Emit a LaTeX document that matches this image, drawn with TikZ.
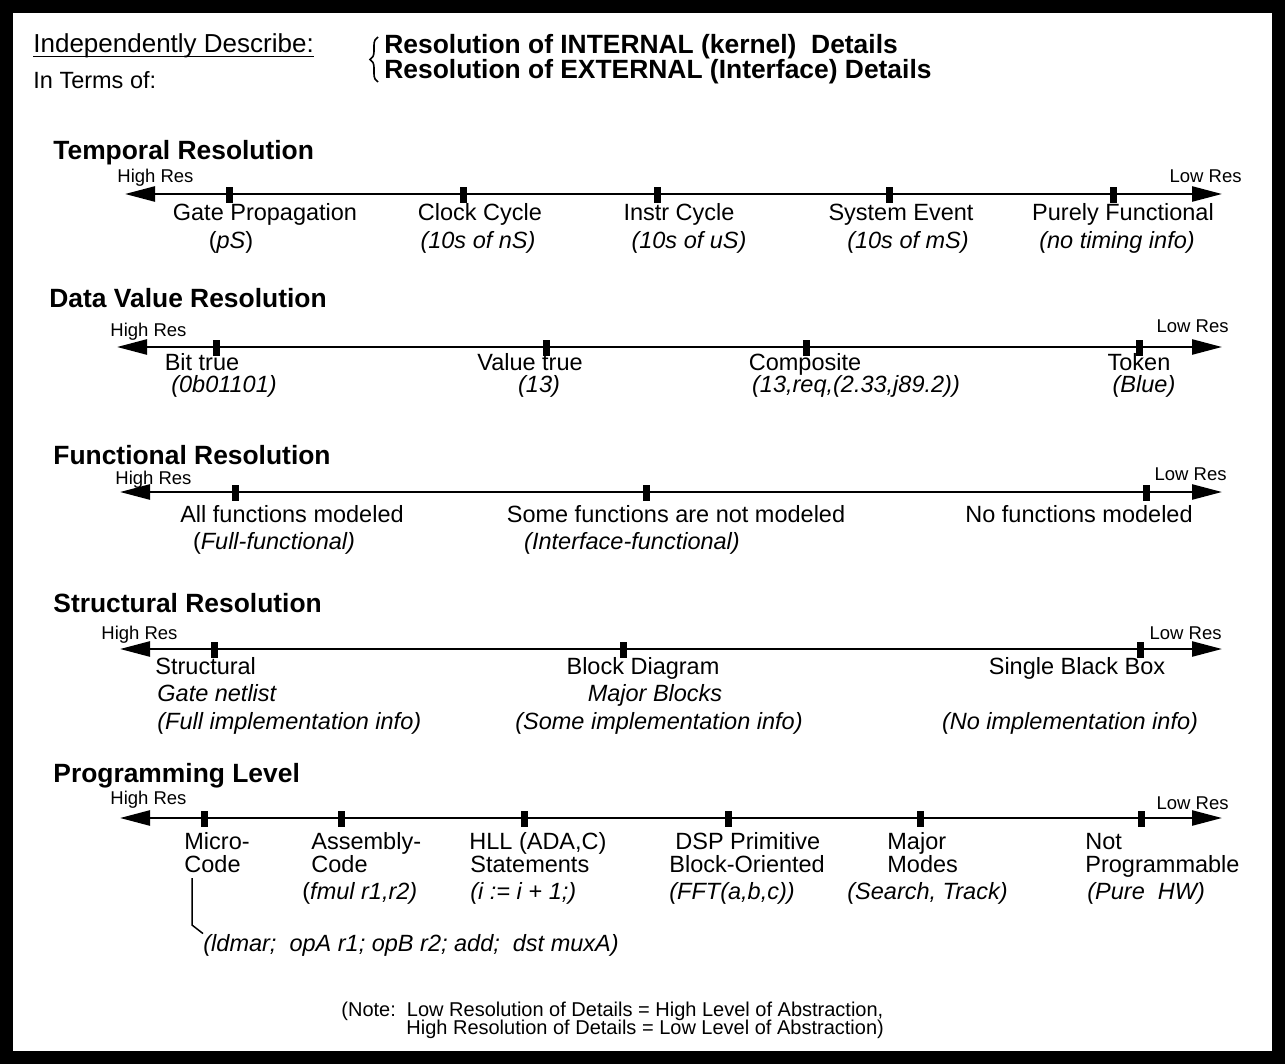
\documentclass[tikz,border=0pt]{standalone}
\usepackage{fontspec}
\setmainfont{Liberation Sans}
\usetikzlibrary{arrows.meta,decorations.pathreplacing}
\begin{document}
\begin{tikzpicture}[x=0.5pt,y=-0.5pt,
  lbl/.style={anchor=base,inner sep=0pt,font=\fontsize{11.75}{13}\selectfont},
  lblw/.style={lbl,anchor=base west},
  ttl/.style={anchor=base west,inner sep=0pt,font=\fontsize{13.2}{15}\selectfont\bfseries},
  hres/.style={anchor=base west,inner sep=0pt,font=\fontsize{9.25}{11}\selectfont},
  lres/.style={anchor=base east,inner sep=0pt,font=\fontsize{9.25}{11}\selectfont},
  note/.style={anchor=base west,inner sep=0pt,font=\fontsize{10}{12}\selectfont},
  axis/.style={line width=1.25pt,{Triangle[length=15pt,width=7.5pt]}-{Triangle[length=15pt,width=7.5pt]}},
  tick/.style={rectangle,fill=black,draw=none,inner sep=0pt,minimum width=3.5pt,minimum height=8pt},
  callout/.style={line width=0.75pt}]
\useasboundingbox (0,0) rectangle (1285,1064);
\draw[line width=6.5pt] (6.5,6.5) rectangle (1278.5,1057.5);

% header
\node[lblw,font=\fontsize{13}{15}\selectfont] (indep) at (33,53) {Independently Describe:};
\draw[line width=0.6pt] ([yshift=-1.6pt]indep.base west) -- ([yshift=-1.6pt]indep.base east);
\coordinate (brB) at (378,82);
\coordinate (brT) at (378,37);
\draw[line width=0.8pt,decorate,decoration={brace,amplitude=4pt}] (brB) -- (brT);
\node[ttl] (int) at (384,54) {Resolution of INTERNAL (kernel)\ \ Details};
\node[ttl] (ext) at (384,79) {Resolution of EXTERNAL (Interface) Details};
\node[lblw] (terms) at (33,89) {In Terms of:};

% Temporal
\node[ttl] (t0) at (53,160) {Temporal Resolution};
\coordinate (tL) at (125,194);
\coordinate (tR) at (1222,194);
\draw[axis] (tL) -- (tR);
\node[hres] (thr) at (117,183) {High Res};
\node[lres] (tlr) at (1242,183) {Low Res};
\foreach \x/\n in {229/1,463/2,657/3,889/4,1113/5}
  \node[tick] (tt\n) at (\x,195) {};
\node[lbl] (ta1) at (265,221) {Gate Propagation};
\node[lbl] (tb1) at (231,249) {(\textit{pS})};
\node[lbl] (ta2) at (480,221) {Clock Cycle};
\node[lbl] (tb2) at (478,249) {\textit{(10s of nS)}};
\node[lbl] (ta3) at (679,221) {Instr Cycle};
\node[lbl] (tb3) at (689,249) {\textit{(10s of uS)}};
\node[lbl] (ta4) at (901,221) {System Event};
\node[lbl] (tb4) at (908,249) {\textit{(10s of mS)}};
\node[lbl] (ta5) at (1123,221) {Purely Functional};
\node[lbl] (tb5) at (1117,249) {\textit{(no timing info)}};

% Data value
\node[ttl] (d0) at (49,307) {Data Value Resolution};
\coordinate (dL) at (117,347);
\coordinate (dR) at (1222,347);
\draw[axis] (dL) -- (dR);
\node[hres] (dhr) at (110,336) {High Res};
\node[lres] (dlr) at (1229,333) {Low Res};
\foreach \x/\n in {216/1,546/2,806/3,1139/4}
  \node[tick] (dt\n) at (\x,348) {};
\node[lbl] (da1) at (202,370) {Bit true};
\node[lbl] (db1) at (224,392) {\textit{(0b01101)}};
\node[lbl] (da2) at (530,370) {Value true};
\node[lbl] (db2) at (539,392) {\textit{(13)}};
\node[lbl] (da3) at (805,370) {Composite};
\node[lbl] (db3) at (856,392) {\textit{(13,req,(2.33,j89.2))}};
\node[lbl] (da4) at (1139,370) {Token};
\node[lbl] (db4) at (1144,392) {\textit{(Blue)}};

% Functional
\node[ttl] (f0) at (53,464) {Functional Resolution};
\coordinate (fL) at (120,492);
\coordinate (fR) at (1222,492);
\draw[axis] (fL) -- (fR);
\node[hres] (fhr) at (115,484) {High Res};
\node[lres] (flr) at (1227,480) {Low Res};
\foreach \x/\n in {235/1,646/2,1146/3}
  \node[tick] (ft\n) at (\x,493) {};
\node[lbl] (fa1) at (292,522) {All functions modeled};
\node[lbl] (fb1) at (274,549) {(\textit{Full-functional)}};
\node[lbl] (fa2) at (676,522) {Some functions are not modeled};
\node[lbl] (fb2) at (632,549) {\textit{(Interface-functional)}};
\node[lbl] (fa3) at (1079,522) {No functions modeled};

% Structural
\node[ttl] (s0) at (53,612) {Structural Resolution};
\coordinate (sL) at (120,649);
\coordinate (sR) at (1222,649);
\draw[axis] (sL) -- (sR);
\node[hres] (shr) at (101,639) {High Res};
\node[lres] (slr) at (1222,639) {Low Res};
\foreach \x/\n in {214/1,623/2,1140/3}
  \node[tick] (st\n) at (\x,650) {};
\node[lblw] (sa1) at (155,674) {Structural};
\node[lblw] (sb1) at (157,701) {\textit{Gate netlist}};
\node[lblw] (sc1) at (157,729) {\textit{(Full implementation info)}};
\node[lbl] (sa2) at (643,674) {Block Diagram};
\node[lbl] (sb2) at (655,701) {\textit{Major Blocks}};
\node[lbl] (sc2) at (659,729) {\textit{(Some implementation info)}};
\node[lbl] (sa3) at (1077,674) {Single Black Box};
\node[lbl] (sc3) at (1070,729) {\textit{(No implementation info)}};

% Programming
\node[ttl] (p0) at (53,782) {Programming Level};
\coordinate (pL) at (120,818);
\coordinate (pR) at (1222,818);
\draw[axis] (pL) -- (pR);
\node[hres] (phr) at (110,804) {High Res};
\node[lres] (plr) at (1229,809) {Low Res};
\foreach \x/\n in {204/1,341/2,524/3,728/4,920/5,1141/6}
  \node[tick] (pt\n) at (\x,819) {};
\node[lblw] (pa1) at (184,849) {Micro-};
\node[lblw] (pb1) at (184,872) {Code};
\node[lblw] (pa2) at (311,849) {Assembly-};
\node[lblw] (pb2) at (311,872) {Code};
\node[lblw] (pc2) at (302,899) {(\textit{fmul r1,r2)}};
\node[lblw] (pa3) at (469,849) {HLL (ADA,C)};
\node[lblw] (pb3) at (470,872) {Statements};
\node[lblw] (pc3) at (470,899) {\textit{(i := i + 1;)}};
\node[lblw] (pa4) at (675,849) {DSP Primitive};
\node[lblw] (pb4) at (669,872) {Block-Oriented};
\node[lblw] (pc4) at (669,899) {\textit{(FFT(a,b,c))}};
\node[lblw] (pa5) at (887,849) {Major};
\node[lblw] (pb5) at (887,872) {Modes};
\node[lblw] (pc5) at (847,899) {\textit{(Search, Track)}};
\node[lblw] (pa6) at (1085,849) {Not};
\node[lblw] (pb6) at (1085,872) {Programmable};
\node[lblw] (pc6) at (1087,899) {\textit{(Pure\ \ HW)}};
\node[lblw] (mc) at (203,951) {\textit{(ldmar;\ \ opA r1; opB r2; add;\ \ dst muxA)}};
\coordinate (mcA) at (192,878);
\coordinate (mcB) at (192,925);
\draw[callout] (mcA) -- (mcB) -- (mc.north west);

% note
\node[note] (n1) at (341,1016) {(Note:\ \ Low Resolution of Details = High Level of Abstraction,};
\node[note] (n2) at (406,1034) {High Resolution of Details = Low Level of Abstraction)};
\end{tikzpicture}
\end{document}
